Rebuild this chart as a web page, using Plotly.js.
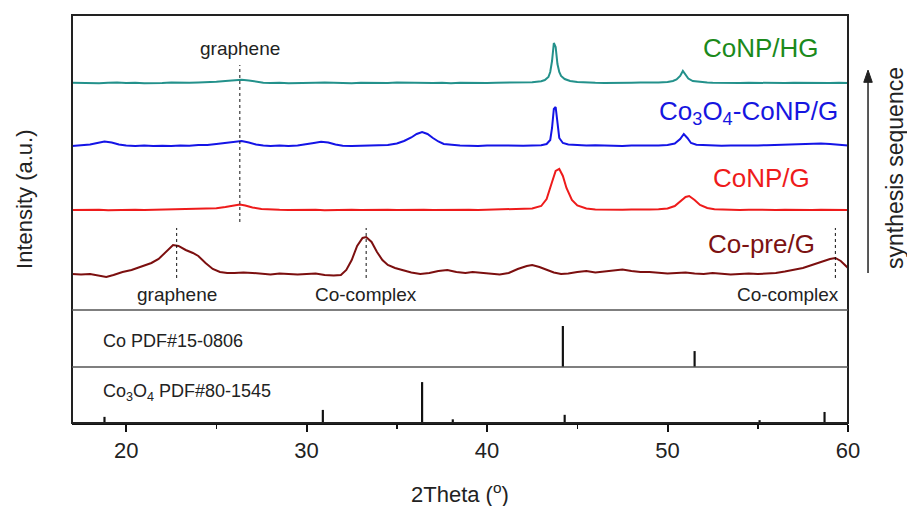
<!DOCTYPE html>
<html>
<head>
<meta charset="utf-8">
<script src="https://cdn.plot.ly/plotly-3.0.1.min.js"></script>
<style>html,body{margin:0;padding:0;background:#fff;}#chart{width:907px;height:506px;}</style>
</head>
<body>
<div id="chart"></div>
<script>
// ---- data (2Theta in degrees, intensity in arbitrary units above each curve's own baseline) ----
const seriesNames = ["CoNP/HG", "Co<sub>3</sub>O<sub>4</sub>-CoNP/G", "CoNP/G", "Co-pre/G"];

const hgX = [17,17.5,18,18.5,19,19.5,20,20.5,21,21.5,22,22.5,23,23.5,24,24.5,25,25.5,26,26.4,26.8,27.2,27.6,28,28.5,29,29.5,30,30.5,31,31.5,32,32.5,33,33.5,34,34.5,35,35.5,36,36.5,37,37.5,38,38.5,39,39.5,40,40.5,41,41.5,42,42.5,43,43.2,43.4,43.5,43.6,43.7,43.8,43.9,44.0,44.1,44.3,44.6,45,45.5,46,46.5,47,47.5,48,48.5,49,49.5,50,50.3,50.5,50.7,50.85,51.0,51.15,51.4,51.8,52.2,52.5,53,53.5,54,54.5,55,55.5,56,56.5,57,57.5,58,58.5,59,59.5,60];
const hgY = [0.3,0,0.4,-0.2,0.2,0.5,0,0.3,-0.3,0.2,0,0.4,0,0.2,0.5,0.7,1.2,2,3,3.2,2.5,1.2,0.3,0,0.3,-0.2,0.2,0,0.3,0.5,0.2,0,-0.2,0.2,0,0.3,0,0.4,0.2,0,0.3,0,0.2,-0.2,0.2,0,0.3,0,0.2,0.4,0.3,0.5,0.8,1.8,3,6,11,22,40,36,19,11,7,4,2,1,0.4,0.2,0,0.3,0,0.2,0.4,0.3,0.6,1,2,3.5,7,12,8,4.5,2,1,0.4,0.2,0,0.3,0,0.2,0,0.2,0.3,0,0.2,0,0.3,0.2,0,0.2,0];

const gX = [17,17.5,18,18.4,18.8,19.2,19.6,20,20.5,21,21.5,22,22.5,23,23.5,24,24.5,25,25.5,26,26.4,26.8,27.2,27.6,28,28.5,29,29.5,30,30.4,30.8,31.2,31.6,32,32.5,33,33.5,34,34.5,35,35.4,35.8,36.1,36.4,36.7,37,37.3,37.6,38,38.5,39,39.5,40,40.5,41,41.5,42,42.5,43,43.3,43.5,43.6,43.7,43.8,43.9,44.0,44.2,44.5,45,45.5,46,46.5,47,47.5,48,48.5,49,49.5,50,50.4,50.7,50.9,51.1,51.3,51.6,52,52.5,53,53.5,54,54.5,55,55.5,56,56.5,57,57.5,58,58.5,59,59.5,60];
const gY = [0,0.5,1.5,3,4.5,3.5,1.5,0.5,0,0.5,0,0.3,0,0.5,0.3,1,1,2,3,4.5,5,3.5,1.5,0.5,0,0.5,0,0.5,1.5,3,4.2,3.5,1.5,0.3,0,0.3,0,0.5,1,2.5,5,8.5,12,14,12,8,4.5,2,1,0.5,0.3,0,0.5,0.3,0,0.5,0.3,0.5,0.8,2,6,18,37,39,22,8,3,1.5,1,0.5,0.8,0.3,0.5,0,0.5,0.3,0.5,0.5,1,2.5,7,12,8,3,1.2,0.8,0.5,0.3,0.5,0.3,0.5,0.5,0.8,1,1.2,1.5,2,2.5,2.5,2,1,0.5];

const nX = [17,17.5,18,18.5,19,19.5,20,20.5,21,21.5,22,22.5,23,23.5,24,24.5,25,25.5,26,26.3,26.6,27,27.5,28,28.5,29,29.5,30,30.5,31,31.5,32,32.5,33,33.5,34,34.5,35,35.5,36,36.5,37,37.5,38,38.5,39,39.5,40,40.5,41,41.5,42,42.5,43,43.3,43.6,43.8,44.0,44.2,44.4,44.7,45,45.5,46,46.5,47,47.5,48,48.5,49,49.5,50,50.4,50.7,51.0,51.2,51.5,51.8,52.2,52.6,53,53.5,54,54.5,55,55.5,56,56.5,57,57.5,58,58.5,59,59.5,60];
const nY = [0,0.3,0,0.2,-0.2,0.2,0,0.3,0,0.2,0.4,0.2,0.5,0.6,0.8,1.2,1.8,3,4.5,5.5,4.5,2.5,1,0.4,0.2,0,0.3,0,0.2,-0.2,0.2,0,0.3,0,0.2,0,0.3,0,0.2,0,0.3,0,0.2,0,0.3,0.2,0,0.3,0.2,0.4,0.5,0.8,1.5,4,11,28,39,41,34,22,10,4.5,1.5,0.6,0.3,0,0.2,0.4,0.2,0.5,0.8,1.5,4,8.5,13,14,10,5,2,0.8,0.4,0.2,0,0.3,0,0.2,0,0.3,0,0.2,0,0.3,0,0.2,0];

const pX = [17,17.5,18,18.5,18.9,19.3,19.8,20.3,20.8,21.4,21.8,22.2,22.6,22.9,23.3,23.7,24,24.4,24.8,25.2,25.6,26,26.5,27,27.5,28,28.5,29,29.5,30,30.5,31,31.5,31.9,32.2,32.5,32.8,33.1,33.3,33.6,33.9,34.2,34.5,34.9,35.3,35.8,36.3,36.8,37.3,37.8,38.3,38.8,39.2,39.7,40.2,40.7,41.2,41.7,42.2,42.5,42.9,43.3,43.7,44.1,44.5,45,45.5,46,46.5,47,47.5,48,48.5,49,49.5,50,50.5,51,51.5,52,52.5,53,53.5,54,54.5,55,55.5,56,56.5,57,57.5,58,58.5,59,59.3,59.6,60];
const pY = [0,-0.5,0,-1.5,-3,-1,2,4,7,11,15,22,29,28,24,21,18,11,5,2,1,1,1.5,1,0.5,-0.5,0.5,0,-0.5,0,0.5,-1,-1.5,-1,4,14,28,36,37,32,22,14,9,6,4,1.5,0,1,3,4,2,1,2,1,0,-0.5,1,5,8,9,7,4,1.5,0,0.5,2,3,1.5,2.5,4,4.5,3,2,2,1,0.5,1,1.5,0.5,0,1,0,-0.5,0,0.5,0,0.5,1,2.5,4,6,9,12,15,16,13,6];

// reference patterns (2Theta, relative intensity)
const coPdfX = [44.2, 51.5];
const coPdfY = [100, 39];
const co3o4PdfX = [18.8, 30.9, 36.4, 38.1, 44.3, 55.1, 58.7];
const co3o4PdfY = [15, 32, 100, 9, 20, 7, 27];

// peak markers (2Theta)
const grapheneTop = 26.3;
const preMarks = [22.8, 33.3, 59.3];
const xTicks = [20, 30, 40, 50, 60];

// ---- styling / layout ----
const offsets = [227, 164, 100, 36];
const lineColors = ["#23918b", "#1414e6", "#ee1b1b", "#7c0f0f"];
const textColors = ["#1b8a1b", "#1616e0", "#ee1b1b", "#7c1212"];
const seriesX = [hgX, gX, nX, pX];
const seriesY = [hgY, gY, nY, pY];
const FONT = "Liberation Sans, Arial, sans-serif";

const traces = seriesX.map((xs, i) => ({
  type: "scatter", mode: "lines", x: xs,
  y: seriesY[i].map(v => v + offsets[i]),
  xaxis: "x", yaxis: "y",
  line: {color: lineColors[i], width: 2},
  hoverinfo: "skip"
}));
traces.push({type: "bar", x: coPdfX, y: coPdfY, width: 0.12, xaxis: "x", yaxis: "y2",
  marker: {color: "#111", line: {width: 0}}, hoverinfo: "skip"});
traces.push({type: "bar", x: co3o4PdfX, y: co3o4PdfY, width: 0.12, xaxis: "x", yaxis: "y3",
  marker: {color: "#111", line: {width: 0}}, hoverinfo: "skip"});

// arrow to the right of the plot (paper coordinates)
const ax = 1.0258, ayTail = 0.3676, ayTip = 0.865, ayBase = 0.835, aw = 0.0055;

const shapes = [
  {type: "rect", xref: "paper", yref: "paper", x0: 0, x1: 1, y0: 0, y1: 1, line: {color: "#222", width: 2}},
  {type: "line", xref: "paper", yref: "paper", x0: 0, x1: 1, y0: 0.277, y1: 0.277, line: {color: "#555", width: 1.5}},
  {type: "line", xref: "paper", yref: "paper", x0: 0, x1: 1, y0: 0.137, y1: 0.137, line: {color: "#555", width: 1.5}},
  {type: "line", xref: "x", yref: "y", x0: grapheneTop, x1: grapheneTop, y0: 88, y1: 245, line: {color: "#111", width: 1, dash: "3px,3px"}},
  {type: "line", xref: "paper", yref: "paper", x0: ax, x1: ax, y0: ayTail, y1: ayBase + 0.005, line: {color: "#222", width: 1.5}},
  {type: "path", xref: "paper", yref: "paper",
    path: `M ${ax - aw} ${ayBase} L ${ax} ${ayTip} L ${ax + aw} ${ayBase} Z`,
    fillcolor: "#222", line: {color: "#222", width: 1}}
];
preMarks.forEach(m => shapes.push({type: "line", xref: "x", yref: "y", x0: m, x1: m, y0: 32, y1: 82,
  line: {color: "#111", width: 1, dash: "3px,3px"}}));

const annotations = [
  {text: seriesNames[0], x: 55.2, y: 262, font: {size: 26, color: textColors[0]}},
  {text: seriesNames[1], x: 54.5, y: 197, font: {size: 26, color: textColors[1]}},
  {text: seriesNames[2], x: 55.2, y: 132, font: {size: 26, color: textColors[2]}},
  {text: seriesNames[3], x: 55.2, y: 66, font: {size: 26, color: textColors[3]}},
  {text: "graphene", x: grapheneTop, y: 262, font: {size: 19, color: "#222"}},
  {text: "graphene", x: preMarks[0], y: 15, font: {size: 19, color: "#222"}},
  {text: "Co-complex", x: preMarks[1], y: 15, font: {size: 19, color: "#222"}},
  {text: "Co-complex", x: 59.6, y: 15, xanchor: "right", font: {size: 19, color: "#222"}}
].map(a => Object.assign({xref: "x", yref: "y", showarrow: false, xanchor: "center", yanchor: "middle"}, a,
  {font: Object.assign({family: FONT}, a.font)}));

annotations.push(
  {text: "Co PDF#15-0806", xref: "paper", yref: "paper", x: 0.037, y: 0.20, xanchor: "left", yanchor: "middle", showarrow: false, font: {family: FONT, size: 18, color: "#222"}},
  {text: "Co<sub>3</sub>O<sub>4</sub> PDF#80-1545", xref: "paper", yref: "paper", x: 0.037, y: 0.075, xanchor: "left", yanchor: "middle", showarrow: false, font: {family: FONT, size: 18, color: "#222"}},
  {text: "Intensity (a.u.)", xref: "paper", yref: "paper", x: -0.062, y: 0.549, textangle: -90, xanchor: "center", yanchor: "middle", showarrow: false, font: {family: FONT, size: 22, color: "#222"}},
  {text: "2Theta (<sup>o</sup>)", xref: "paper", yref: "paper", x: 0.5, y: -0.172, xanchor: "center", yanchor: "middle", showarrow: false, font: {family: FONT, size: 22, color: "#222"}},
  {text: "synthesis sequence", xref: "paper", yref: "paper", x: 1.0606, y: 0.625, textangle: -90, xanchor: "center", yanchor: "middle", showarrow: false, font: {family: FONT, size: 23, color: "#222"}}
);

const hidden = {showgrid: false, zeroline: false, showticklabels: false, showline: false, ticks: "", fixedrange: true};
const layout = {
  width: 907, height: 506,
  margin: {l: 72, r: 59, t: 15, b: 83},
  paper_bgcolor: "#fff", plot_bgcolor: "#fff",
  showlegend: false, hovermode: false,
  font: {family: FONT, color: "#222"},
  xaxis: {range: [17, 60], anchor: "y3", tickvals: xTicks, ticks: "outside", ticklen: 7, tickwidth: 2, tickcolor: "#111",
    showline: true, linecolor: "#111", linewidth: 2, showgrid: false, zeroline: false,
    tickfont: {family: FONT, size: 22, color: "#222"},
    minor: {dtick: 5, tick0: 0, ticks: "outside", ticklen: 4, tickwidth: 1.5, tickcolor: "#111"}},
  yaxis: Object.assign({domain: [0.277, 1], range: [0, 295]}, hidden),
  yaxis2: Object.assign({domain: [0.137, 0.277], range: [0, 139]}, hidden),
  yaxis3: Object.assign({domain: [0, 0.137], range: [0, 136.6]}, hidden),
  shapes: shapes,
  annotations: annotations
};

Plotly.newPlot("chart", traces, layout, {staticPlot: true, displayModeBar: false});
</script>
</body>
</html>
